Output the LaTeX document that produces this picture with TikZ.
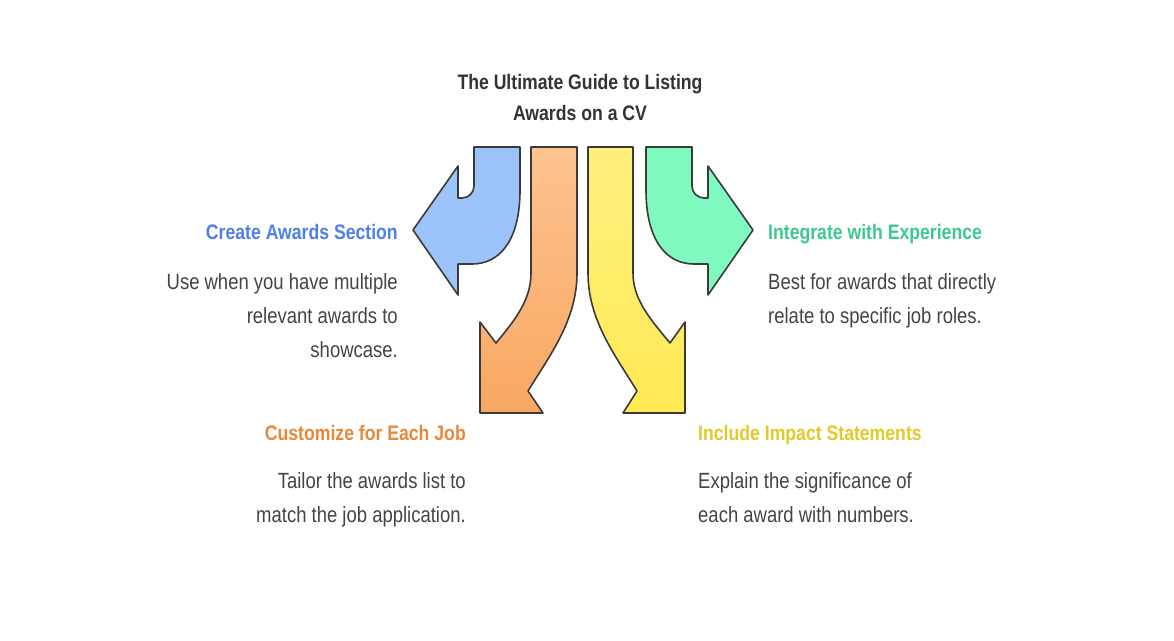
\documentclass[tikz,border=0pt]{standalone}
\usepackage{fontspec}
\setmainfont[FakeStretch=0.84]{Liberation Sans}
\usetikzlibrary{positioning}
\definecolor{ink}{HTML}{3A3A3A}
\definecolor{txt}{HTML}{444444}
\definecolor{titlecol}{HTML}{333333}
\definecolor{bluefill}{HTML}{9DC3FB}
\definecolor{orangetop}{HTML}{FDC38F}
\definecolor{orangebot}{HTML}{F9A862}
\definecolor{yellowtop}{HTML}{FFF07F}
\definecolor{yellowbot}{HTML}{FFE955}
\definecolor{greenfill}{HTML}{80F9C0}
\definecolor{bluetext}{HTML}{4F7FE8}
\definecolor{orangetext}{HTML}{E8883A}
\definecolor{greentext}{HTML}{3CC98A}
\definecolor{yellowtext}{HTML}{E3C92A}
\begin{document}
\begin{tikzpicture}[x=1pt, y=-1pt]

  \tikzstyle{arrowshape}=[draw=ink, line width=1.6pt, line join=round]
  \tikzstyle{head}=[font=\fontsize{21}{26}\selectfont\bfseries, inner sep=0pt]
  \tikzstyle{desc}=[font=\fontsize{22}{34}\selectfont, text=txt, inner sep=0pt]

  \useasboundingbox (0,0) rectangle (1174,640);

  % arrows
  \draw [arrowshape, fill=bluefill] (474,147) -- (474,186) arc (0:90:12) -- (458,198) -- (458,166)
    -- (413,230) -- (458,295) -- (458,264) -- (472,264)
    .. controls (500,264) and (520,240) .. (520,190) -- (520,147) -- cycle;
  \draw [arrowshape, top color=orangetop, bottom color=orangebot] (531,147) -- (531,273)
    .. controls (531,300) and (515,320) .. (496,343) -- (480,322) -- (480,413) -- (543,413)
    -- (528,391) .. controls (550,355) and (577,320) .. (577,273) -- (577,147) -- cycle;
  \draw [arrowshape, top color=yellowtop, bottom color=yellowbot] (633,147) -- (633,273)
    .. controls (633,300) and (651,320) .. (670,343) -- (685,322) -- (685,413) -- (623,413)
    -- (637,391) .. controls (615,355) and (588,320) .. (588,273) -- (588,147) -- cycle;
  \draw [arrowshape, fill=greenfill] (692,147) -- (692,186) arc (180:90:12) -- (708,198) -- (708,166)
    -- (753,230) -- (708,295) -- (708,264) -- (694,264)
    .. controls (666,264) and (646,240) .. (646,190) -- (646,147) -- cycle;

  % texts
  \node [head, text=titlecol, align=center, font=\fontsize{21}{31}\selectfont\bfseries] (title) at (580,97)
    {The Ultimate Guide to Listing\\Awards on a CV};

  \node [head, text=bluetext, anchor=base east] (create) at (398,239) {Create Awards Section};
  \node [desc, align=right, anchor=north east] (create-d) at (398,273)
    {Use when you have multiple\\relevant awards to\\showcase.};

  \node [head, text=orangetext, anchor=base east] (custom) at (466,440) {Customize for Each Job};
  \node [desc, align=right, anchor=north east] (custom-d) at (466,472)
    {Tailor the awards list to\\match the job application.};

  \node [head, text=greentext, anchor=base west] (integ) at (768,239) {Integrate with Experience};
  \node [desc, align=left, anchor=north west] (integ-d) at (768,273)
    {Best for awards that directly\\relate to specific job roles.};

  \node [head, text=yellowtext, anchor=base west] (impact) at (698,440) {Include Impact Statements};
  \node [desc, align=left, anchor=north west] (impact-d) at (698,472)
    {Explain the significance of\\each award with numbers.};

\end{tikzpicture}
\end{document}
